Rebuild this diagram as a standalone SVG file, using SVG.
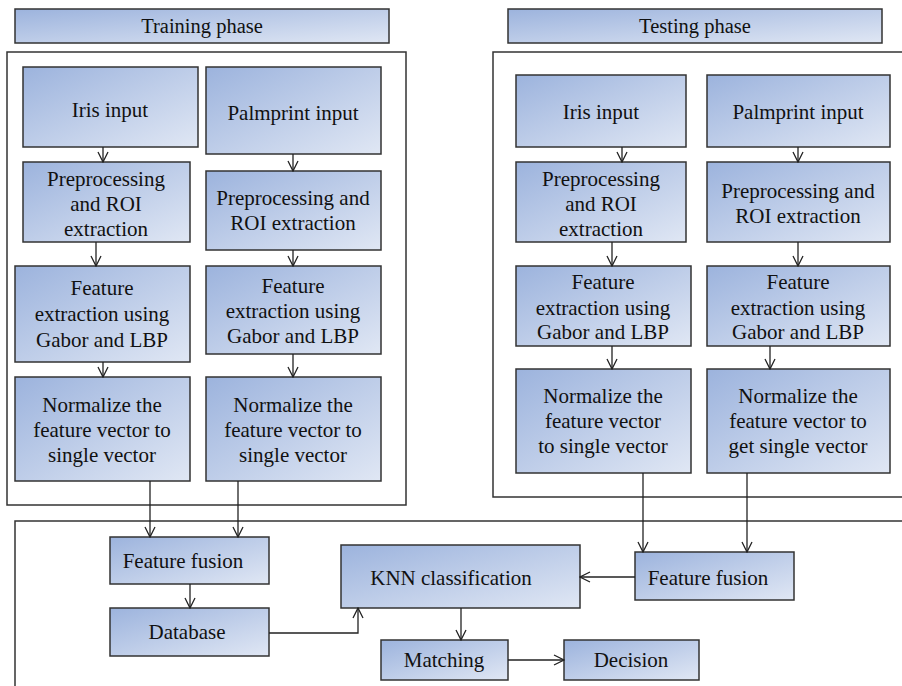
<svg xmlns="http://www.w3.org/2000/svg" width="902" height="686" viewBox="0 0 902 686">
<defs>
<linearGradient id="g" x1="0" y1="0" x2="1" y2="1">
<stop offset="0" stop-color="#9cb3dd"/>
<stop offset="1" stop-color="#e0e7f4"/>
</linearGradient>
<marker id="ah" viewBox="0 0 12 12" refX="11" refY="6" markerWidth="12" markerHeight="12" markerUnits="userSpaceOnUse" orient="auto">
<path d="M1,1 L11,6 L1,11" fill="none" stroke="#222" stroke-width="1.3"/>
</marker>
</defs>
<style>
.b{fill:url(#g);stroke:#333;stroke-width:1.5}
.f{fill:none;stroke:#333;stroke-width:1.5}
text{font-family:'Liberation Serif','Times New Roman',Times,serif;font-size:21px;fill:#111;text-anchor:middle}
.h{font-size:20.5px}
.c{fill:none;stroke:#222;stroke-width:1.3;marker-end:url(#ah)}
</style>
<rect width="902" height="686" fill="#fff"/>

<g id="frames">
<rect class="f" x="7" y="52" width="399" height="453"/>
<path class="f" d="M902,52 H493 V497 H902"/>
<path class="f" d="M902,521 H15 V686"/>
</g>

<g id="training-header"><rect class="b" x="15" y="9" width="374" height="34"/><text class="h" x="202" y="33">Training phase</text></g>
<g id="testing-header"><rect class="b" x="508" y="9" width="374" height="34"/><text class="h" x="695" y="33">Testing phase</text></g>

<g id="tr-iris-input"><rect class="b" x="23" y="67" width="175" height="80"/><text x="110" y="117">Iris input</text></g>
<g id="tr-palm-input"><rect class="b" x="206" y="67" width="175" height="87"/><text x="293" y="120">Palmprint input</text></g>
<g id="tr-iris-pre"><rect class="b" x="23" y="162" width="167" height="80"/><text x="106" y="186">Preprocessing</text><text x="106" y="211">and ROI</text><text x="106" y="236">extraction</text></g>
<g id="tr-palm-pre"><rect class="b" x="206" y="171" width="175" height="79"/><text x="293" y="205">Preprocessing and</text><text x="293" y="230">ROI extraction</text></g>
<g id="tr-iris-feat"><rect class="b" x="15" y="266" width="175" height="96"/><text x="102" y="295">Feature</text><text x="102" y="321">extraction using</text><text x="102" y="347">Gabor and LBP</text></g>
<g id="tr-palm-feat"><rect class="b" x="206" y="266" width="175" height="88"/><text x="293" y="293">Feature</text><text x="293" y="318">extraction using</text><text x="293" y="343">Gabor and LBP</text></g>
<g id="tr-iris-norm"><rect class="b" x="15" y="377" width="175" height="104"/><text x="102" y="412">Normalize the</text><text x="102" y="437">feature vector to</text><text x="102" y="462">single vector</text></g>
<g id="tr-palm-norm"><rect class="b" x="206" y="377" width="175" height="104"/><text x="293" y="412">Normalize the</text><text x="293" y="437">feature vector to</text><text x="293" y="462">single vector</text></g>

<g id="te-iris-input"><rect class="b" x="516" y="75" width="170" height="72"/><text x="601" y="119">Iris input</text></g>
<g id="te-palm-input"><rect class="b" x="707" y="75" width="183" height="72"/><text x="798" y="119">Palmprint input</text></g>
<g id="te-iris-pre"><rect class="b" x="516" y="162" width="170" height="80"/><text x="601" y="186">Preprocessing</text><text x="601" y="211">and ROI</text><text x="601" y="236">extraction</text></g>
<g id="te-palm-pre"><rect class="b" x="707" y="162" width="183" height="80"/><text x="798" y="198">Preprocessing and</text><text x="798" y="223">ROI extraction</text></g>
<g id="te-iris-feat"><rect class="b" x="516" y="266" width="175" height="80"/><text x="603" y="289">Feature</text><text x="603" y="315">extraction using</text><text x="603" y="339">Gabor and LBP</text></g>
<g id="te-palm-feat"><rect class="b" x="707" y="266" width="183" height="80"/><text x="798" y="289">Feature</text><text x="798" y="315">extraction using</text><text x="798" y="339">Gabor and LBP</text></g>
<g id="te-iris-norm"><rect class="b" x="516" y="369" width="175" height="104"/><text x="603" y="403">Normalize the</text><text x="603" y="428">feature vector</text><text x="603" y="453">to single vector</text></g>
<g id="te-palm-norm"><rect class="b" x="707" y="369" width="183" height="104"/><text x="798" y="403">Normalize the</text><text x="798" y="428">feature vector to</text><text x="798" y="453">get single vector</text></g>

<g id="tr-fusion"><rect class="b" x="110" y="537" width="159" height="47"/><text x="183" y="568">Feature fusion</text></g>
<g id="database"><rect class="b" x="110" y="608" width="159" height="48"/><text x="187" y="639">Database</text></g>
<g id="knn"><rect class="b" x="341" y="545" width="239" height="63"/><text x="451" y="585">KNN classification</text></g>
<g id="te-fusion"><rect class="b" x="635" y="552" width="159" height="48"/><text x="708" y="585">Feature fusion</text></g>
<g id="matching"><rect class="b" x="381" y="640" width="127" height="40"/><text x="444" y="667">Matching</text></g>
<g id="decision"><rect class="b" x="564" y="640" width="135" height="40"/><text x="631" y="667">Decision</text></g>

<g id="connectors">
<path class="c" d="M103,147 V162"/>
<path class="c" d="M293,154 V171"/>
<path class="c" d="M96,242 V266"/>
<path class="c" d="M293,250 V266"/>
<path class="c" d="M103,362 V377"/>
<path class="c" d="M293,354 V377"/>
<path class="c" d="M150,481 V537"/>
<path class="c" d="M238,481 V537"/>
<path class="c" d="M622,147 V162"/>
<path class="c" d="M798,147 V162"/>
<path class="c" d="M612,242 V266"/>
<path class="c" d="M798,242 V266"/>
<path class="c" d="M612,346 V369"/>
<path class="c" d="M770,346 V369"/>
<path class="c" d="M643,473 V552"/>
<path class="c" d="M747,473 V552"/>
<path class="c" d="M190,584 V608"/>
<path class="c" d="M269,633 H358 V608"/>
<path class="c" d="M635,577 H580"/>
<path class="c" d="M461,608 V640"/>
<path class="c" d="M508,660 H564"/>
</g>
</svg>
